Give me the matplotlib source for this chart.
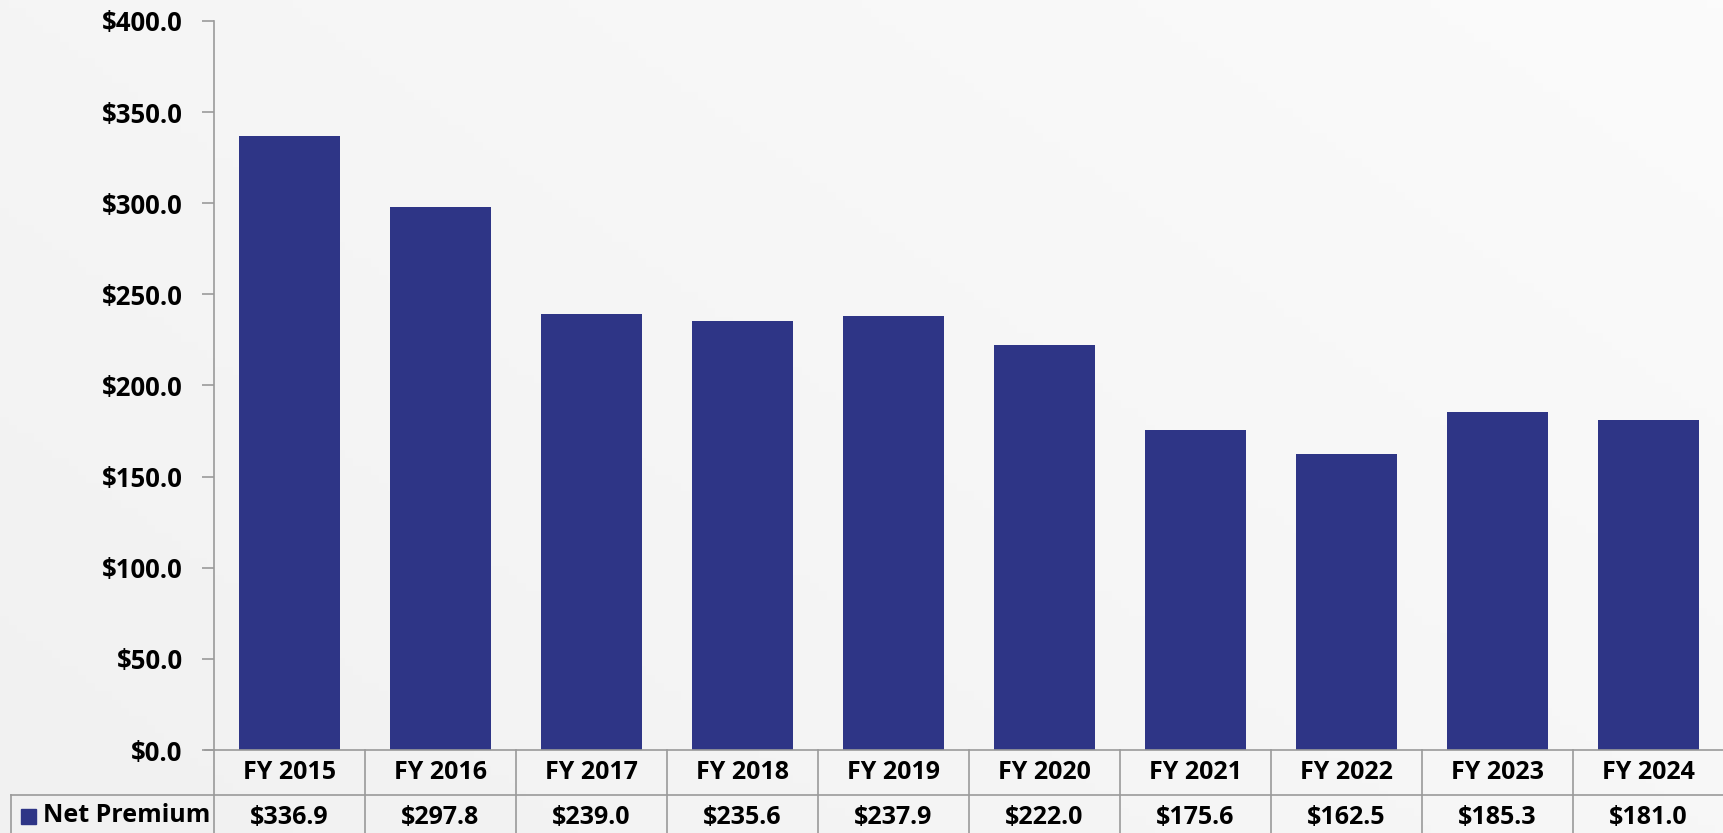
import matplotlib
matplotlib.use("Agg")
import numpy as np
import matplotlib.pyplot as plt
from matplotlib.transforms import blended_transform_factory
from matplotlib.patches import Rectangle
from matplotlib.colors import LinearSegmentedColormap

# Net premium by fiscal year ($ millions)
categories = ["FY 2015", "FY 2016", "FY 2017", "FY 2018", "FY 2019",
              "FY 2020", "FY 2021", "FY 2022", "FY 2023", "FY 2024"]
net_premium = [336.9, 297.8, 239.0, 235.6, 237.9, 222.0, 175.6, 162.5, 185.3, 181.0]
series_name = "Net Premium"
y_ticks = [0, 50, 100, 150, 200, 250, 300, 350, 400]

BAR_COLOR = "#2e3586"
LINE_COLOR = "#9a9a9a"
BG_COLOR = "#f4f4f4"
FONT = ["Open Sans", "DejaVu Sans"]

W, H = 1724, 833
fig = plt.figure(figsize=(W / 100, H / 100), dpi=100, facecolor=BG_COLOR)

# soft light-grey backdrop, a touch lighter toward the upper right
bg = fig.add_axes([0, 0, 1, 1], zorder=-10)
gx, gy = np.meshgrid(np.linspace(0, 1, 200), np.linspace(0, 1, 100))
bg.imshow(0.6 * gx + 0.4 * gy, cmap=LinearSegmentedColormap.from_list(
    "bg", ["#f1f1f1", "#fbfbfb"]), aspect="auto", origin="lower",
    extent=[0, 1, 0, 1])
bg.set_axis_off()

# Plot area in pixel terms
left, right, top, bottom = 214, 1724, 21, 750
ax = fig.add_axes([left / W, (H - bottom) / H, (right - left) / W, (bottom - top) / H])
ax.set_facecolor("none")

n = len(categories)
x = list(range(n))
ax.bar(x, net_premium, width=0.67, color=BAR_COLOR, zorder=2)

ax.set_xlim(-0.5, n - 0.5)
ax.set_ylim(0, 400)
ax.set_yticks(y_ticks)
ax.set_yticklabels([f"${v:.1f}" for v in y_ticks], fontsize=18.5,
                   fontweight="bold", family=FONT)
ax.tick_params(axis="y", length=9, width=1.2, color=LINE_COLOR, pad=13.5)
ax.set_xticks([])
for s in ("top", "right", "bottom"):
    ax.spines[s].set_visible(False)
ax.spines["left"].set_color(LINE_COLOR)
ax.spines["left"].set_linewidth(1.2)

# Data table beneath the axis
plot_h = bottom - top
row_h = 45 / plot_h
trans = blended_transform_factory(ax.transData, ax.transAxes)
col_px = (right - left) / n
table_left = -0.5 - (left - 11) / col_px

lw = 1.2
# x-axis baseline (extends under the tick stub)
ax.plot([-0.5 - 9 / col_px, n - 0.5], [0, 0], transform=trans, color=LINE_COLOR,
        lw=lw, clip_on=False, zorder=3)
# row dividers
for yy in (-row_h, -2 * row_h):
    ax.plot([table_left, n - 0.5], [yy, yy], transform=trans,
            color=LINE_COLOR, lw=lw, clip_on=False)
# vertical cell borders
for b in range(n + 1):
    ax.plot([b - 0.5, b - 0.5], [0, -2 * row_h], transform=trans,
            color=LINE_COLOR, lw=lw, clip_on=False)
ax.plot([table_left, table_left], [-row_h, -2 * row_h], transform=trans,
        color=LINE_COLOR, lw=lw, clip_on=False)

for i, (cat, val) in enumerate(zip(categories, net_premium)):
    ax.text(i, -row_h / 2, cat, transform=trans, ha="center", va="center",
            fontsize=18, fontweight="bold", family=FONT)
    ax.text(i, -1.5 * row_h, f"${val:.1f}", transform=trans, ha="center",
            va="center", fontsize=18, fontweight="bold", family=FONT)

# legend key in the row label cell
key_y = (H - 816) / H
fig.add_artist(Rectangle((21 / W, key_y - 7.5 / H), 15 / W, 15 / H,
                         transform=fig.transFigure, color=BAR_COLOR))
fig.text(43 / W, key_y, series_name, ha="left", va="center", fontsize=18,
         fontweight="bold", family=FONT)

fig.savefig("out.png", dpi=100, facecolor=BG_COLOR)
